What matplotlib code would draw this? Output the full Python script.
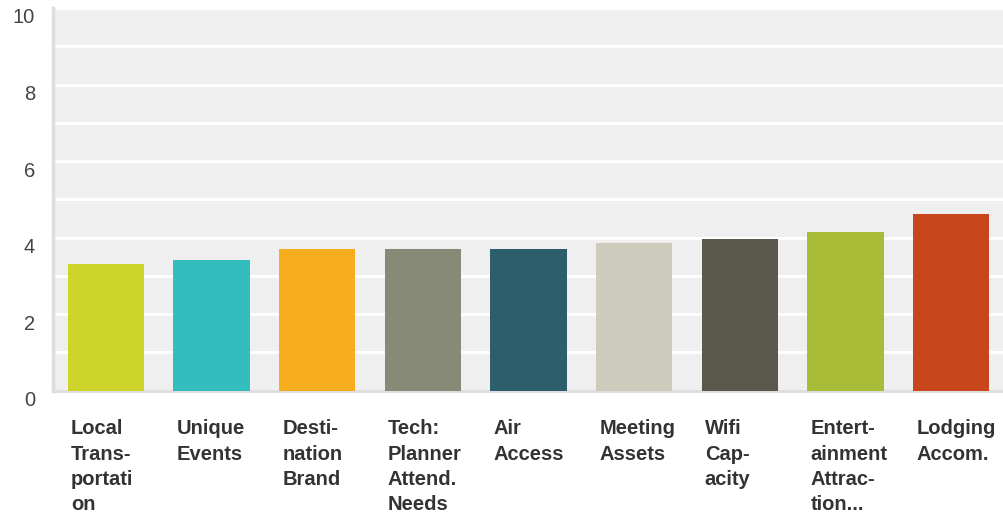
import matplotlib.pyplot as plt
import matplotlib.transforms as mtransforms

# Chart data
categories = ["Local\nTrans-\nportati\non", "Unique\nEvents", "Desti-\nnation\nBrand",
              "Tech:\nPlanner\nAttend.\nNeeds", "Air\nAccess", "Meeting\nAssets",
              "Wifi\nCap-\nacity", "Entert-\nainment\nAttrac-\ntion...", "Lodging\nAccom."]
values = [3.31, 3.41, 3.71, 3.71, 3.71, 3.85, 3.96, 4.15, 4.61]
colors = ["#CDD42A", "#33BDBF", "#F6AE1E", "#888A78", "#2D5E6C",
          "#CDCCBC", "#5A584A", "#A9BC38", "#C8461C"]
y_ticks = [0, 2, 4, 6, 8, 10]

plt.rcParams['font.family'] = ['Liberation Sans', 'DejaVu Sans']

fig = plt.figure(figsize=(10.04, 5.16), dpi=100)
ax = fig.add_axes([53 / 1004, 1 - 390.7 / 516, 1 - 53 / 1004, (390.7 - 8) / 516])
ax.set_facecolor("#EFEFEF")

bar_w = 0.72
x = list(range(len(values)))
ax.bar(x, values, width=bar_w, color=colors, zorder=3)

ax.set_xlim(-0.5, len(values) - 0.5)
ax.set_ylim(0, 10)
ax.yaxis.grid(True, color="white", linewidth=2, zorder=1)
ax.set_axisbelow(True)
ax.set_yticks(range(0, 11))
ax.set_yticklabels([str(v) if v in y_ticks else "" for v in range(0, 11)],
                   fontsize=14.5, color="#444444")
ax.tick_params(axis="y", length=0, pad=13)
ax.set_xticks([])

offset = mtransforms.ScaledTranslation(0, -8 / 100, fig.dpi_scale_trans)
for lab in ax.get_yticklabels():
    lab.set_transform(lab.get_transform() + offset)

for side in ["top", "right"]:
    ax.spines[side].set_visible(False)
ax.spines["left"].set_color("#DDDDDD")
ax.spines["left"].set_linewidth(2.5)
ax.spines["bottom"].set_color("#DDDDDD")
ax.spines["bottom"].set_linewidth(2)

# category labels, left-aligned under each bar
trans = mtransforms.blended_transform_factory(ax.transData, ax.transAxes)
shift = mtransforms.ScaledTranslation(3 / 100, 0, fig.dpi_scale_trans)
for xi, lab in zip(x, categories):
    ax.text(xi - bar_w / 2, -0.075, lab, transform=trans + shift,
            ha="left", va="top", fontsize=14.5, fontweight="bold",
            color="#333333", linespacing=1.42)

fig.savefig("out.png", dpi=100)
